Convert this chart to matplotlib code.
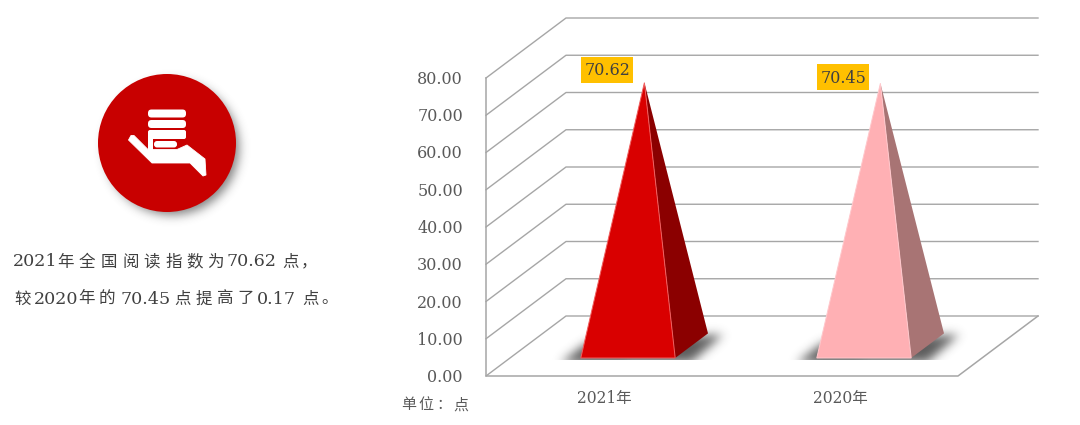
import numpy as np
import matplotlib
matplotlib.use("Agg")
import matplotlib.pyplot as plt
from matplotlib.patches import Circle, Polygon, Rectangle, FancyBboxPatch
from matplotlib.path import Path

# Data
categories = ["2021年", "2020年"]
values = [70.62, 70.45]
y_ticks = [0, 10, 20, 30, 40, 50, 60, 70, 80]
unit_label = "单位：点"

# Text of the left note, split in runs so that the wide spacing can be kept
line1_runs = ["2021", "年", "全", "国", "阅", "读", "指", "数", "为", "70.62", "点", "，"]
line2_runs = ["较", "2020", "年", "的", "70.45", "点", "提", "高", "了", "0.17", "点", "。"]
line1_x = [13, 57, 79, 101, 122, 143, 165, 186, 207, 227, 282, 301]
line2_x = [14, 34, 78, 99, 121, 174, 196, 217, 237, 257, 302, 321]

FONTS = ["DejaVu Serif", "Noto Sans CJK SC"]
GREY = "#595959"
GRID = "#A6A6A6"
RED = "#C80000"
px = 72 / 100  # pixels to points

fig = plt.figure(figsize=(10.8, 4.25), dpi=100)
ax = fig.add_axes([0, 0, 1, 1])


def soft_shadow(points, blur, alpha, zorder, ymax=None):
    # blurred dark shape drawn as an image, in screen pixels
    points = np.asarray(points)
    pad = 3 * blur
    x0, y0 = np.floor(points.min(axis=0) - pad).astype(int)
    x1, y1 = np.ceil(points.max(axis=0) + pad).astype(int)
    xx, yy = np.meshgrid(np.arange(x0, x1) + 0.5, np.arange(y0, y1) + 0.5)
    inside = Path(points).contains_points(np.c_[xx.ravel(), yy.ravel()])
    mask = inside.reshape(xx.shape).astype(float)
    k = np.exp(-0.5 * (np.arange(-pad, pad + 1) / blur) ** 2)
    k /= k.sum()
    mask = np.apply_along_axis(lambda r: np.convolve(r, k, mode="same"), 0, mask)
    mask = np.apply_along_axis(lambda r: np.convolve(r, k, mode="same"), 1, mask)
    if ymax is not None:
        mask[yy > ymax] = 0
    rgba = np.zeros(mask.shape + (4,))
    rgba[..., :3] = 0.25
    rgba[..., 3] = mask * alpha
    ax.imshow(rgba, extent=(x0, x1, y1, y0), aspect="auto", interpolation="bilinear", zorder=zorder)


# 3D box of the chart in screen pixels
X0, X1 = 486, 958
Y0 = 376
UNIT = 3.725
DX, DY = 80, 60
cat_w = (X1 - X0) / len(categories)


def proj(cat, value, depth, offset=0.0):
    # cat in category units, depth 0 = front, 1 = back wall
    x = X0 + (cat + 0.5) * cat_w + offset * cat_w + depth * DX
    y = Y0 - value * UNIT - depth * DY
    return x, y


# Walls and floor
for v in y_ticks:
    y = Y0 - v * UNIT
    ax.plot([X0, X0 + DX, X1 + DX], [y, y - DY, y - DY], color=GRID, lw=1.0, zorder=1)
    ax.text(463, y + 1.5, f"{v:.2f}", ha="right", va="center", color=GREY,
            fontsize=16 * px, family=FONTS, zorder=6)
ax.plot([X0, X0, X1, X1 + DX], [Y0 - y_ticks[-1] * UNIT, Y0, Y0, Y0 - DY],
        color=GRID, lw=1.1, zorder=2)

# Pyramids
front_colors = ["#D90000", "#FFB0B4"]
side_colors = ["#8B0000", "#A87474"]
edge_colors = ["#F06060", "#FFC8CC"]
box_offsets = [(-37, -13), (-37, -6)]
HALF = 0.2
D_FRONT, D_BACK = 0.3, 0.71

for i, (cat, val) in enumerate(zip(categories, values)):
    fl = proj(i, 0, D_FRONT, -HALF)
    fr = proj(i, 0, D_FRONT, HALF)
    br = proj(i, 0, D_BACK, HALF)
    apex = proj(i, val, (D_FRONT + D_BACK) / 2)

    # soft shadow on the floor
    soft_shadow([(fl[0] - 20, fl[1] + 5), (fl[0] + 6, fl[1] - 15),
                 (br[0] + 15, br[1] + 1), (fr[0] + 16, fr[1] + 4)], 5, 0.85, 3, ymax=fl[1] + 2)

    ax.add_patch(Polygon([apex, fr, br], closed=True, fc=side_colors[i], ec="none", zorder=4))
    ax.add_patch(Polygon([apex, fl, fr], closed=True, fc=front_colors[i],
                         ec=edge_colors[i], lw=0.7, zorder=5))

    # value label
    cx, cy = apex[0] + box_offsets[i][0], apex[1] + box_offsets[i][1]
    ax.add_patch(Rectangle((cx - 26, cy - 13), 52, 26, fc="#FFC000", ec="none", zorder=6))
    ax.text(cx, cy + 1, f"{val:.2f}", ha="center", va="center", color="#404040",
            fontsize=16 * px, family=FONTS, zorder=7)

    # category label
    ax.text(proj(i, 0, 0)[0], 398, cat, ha="center", va="center", color=GREY,
            fontsize=15.5 * px, family=FONTS)

# Unit label
for ch, x in zip(unit_label, [401, 418, 436, 453]):
    ax.text(x, 405, ch, ha="left", va="center", color=GREY, fontsize=15 * px, family=FONTS)

# Left note
for runs, xs, y in [(line1_runs, line1_x, 262), (line2_runs, line2_x, 299)]:
    for run, x in zip(runs, xs):
        size = 17.5 if run[0].isdigit() else 16.5
        ax.text(x, y, run, ha="left", va="center", color="#404040",
                fontsize=size * px, family=FONTS)

# Round icon with its shadow
t = np.linspace(0, 2 * np.pi, 120)
soft_shadow(np.c_[172 + 67 * np.cos(t), 148 + 67 * np.sin(t)], 5, 0.65, 1)
ax.add_patch(Circle((167, 143), 69, fc=RED, ec="none", zorder=2))

# Stack of books
for y0 in [109.5, 120]:
    ax.add_patch(FancyBboxPatch((148, y0), 38, 8, boxstyle="round,pad=0,rounding_size=3.5",
                                fc="white", ec="none", zorder=3))
ax.add_patch(FancyBboxPatch((148, 130), 38, 9, boxstyle="round,pad=0,rounding_size=2",
                            fc="white", ec="none", zorder=3))
ax.add_patch(Rectangle((148, 132), 5, 18, fc="white", ec="none", zorder=3))
ax.add_patch(FancyBboxPatch((154, 141), 23, 6.5, boxstyle="round,pad=0,rounding_size=3",
                            fc="white", ec="none", zorder=3))

# Hand
hand = [(131, 135.5), (134, 135.5), (148, 149.5), (177, 149.5), (187, 145), (205, 159),
        (206, 175), (203, 176), (190, 163), (152, 163), (128.5, 140)]
ax.add_patch(Polygon(hand, closed=True, fc="white", ec="white", lw=0.6, joinstyle="round", zorder=5))

ax.set_xlim(0, 1080)
ax.set_ylim(425, 0)
ax.axis("off")

fig.savefig("out.png", dpi=100)
